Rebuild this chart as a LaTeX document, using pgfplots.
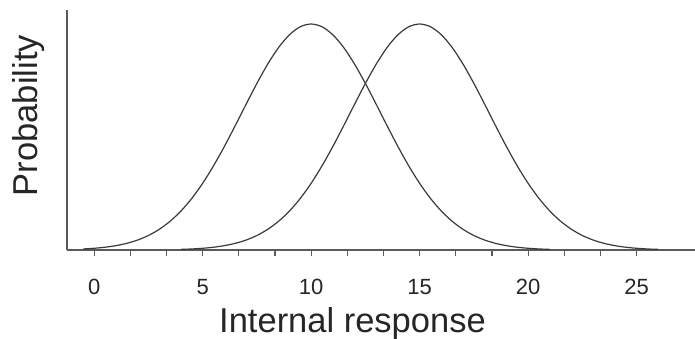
\documentclass[border=0pt]{standalone}
\usepackage{pgfplots}
\pgfplotsset{compat=1.18}
\usepackage{fontspec}
\setmainfont{Liberation Sans}
\definecolor{curve}{HTML}{3A3A3A}
\definecolor{axisgray}{HTML}{5A5A5A}
\begin{document}
\begin{tikzpicture}
\begin{axis}[
  at={(67pt,89pt)}, anchor=south west,
  scale only axis, width=628pt, height=240pt,
  xmin=-1.25, xmax=27.69, ymin=0, ymax=1.062,
  axis lines=left, axis line style={-, axisgray, line width=1.5pt},
  xtick={0,5,10,15,20,25}, minor x tick num=2,
  ytick=\empty,
  tick align=outside, tick pos=left,
  major tick length=6pt, minor tick length=6pt,
  every tick/.style={axisgray, line width=1.2pt},
  /pgf/number format/assume math mode=true,
  xticklabel style={font=\fontsize{22}{22}\selectfont, text=black!85, yshift=-20pt},
  xlabel={Internal response},
  xlabel style={at={(axis description cs:0.4546,0)}, anchor=base, yshift=-82pt, font=\fontsize{34.5}{34.5}\selectfont, text=black!85},
  ylabel={Probability},
  ylabel style={at={(axis description cs:-0.0462,0.56)}, anchor=base, rotate=0, font=\fontsize{34.5}{34.5}\selectfont, text=black!85},
  clip=false,
]
\addplot[curve, line width=1.2pt, smooth] coordinates {
(-0.5,0.0046) (0,0.0076) (0.5,0.0122) (1,0.0192) (1.5,0.0294) (2,0.0439) (2.5,0.0641)
(3,0.0914) (3.5,0.1271) (4,0.1724) (4.5,0.2283) (5,0.2950) (5.5,0.3720) (6,0.4578)
(6.5,0.5498) (7,0.6444) (7.5,0.7370) (8,0.8226) (8.5,0.8960) (9,0.9523) (9.5,0.9879)
(10,1) (10.5,0.9879) (11,0.9523) (11.5,0.8960) (12,0.8226) (12.5,0.7370) (13,0.6444)
(13.5,0.5498) (14,0.4578) (14.5,0.3720) (15,0.2950) (15.5,0.2283) (16,0.1724)
(16.5,0.1271) (17,0.0914) (17.5,0.0641) (18,0.0439) (18.5,0.0294) (19,0.0192)
(19.5,0.0122) (20,0.0076) (20.5,0.0046) (21,0.0027)
};
\addplot[curve, line width=1.2pt, smooth] coordinates {
(4,0.0027) (4.5,0.0046) (5,0.0076) (5.5,0.0122) (6,0.0192) (6.5,0.0294) (7,0.0439) (7.5,0.0641)
(8,0.0914) (8.5,0.1271) (9,0.1724) (9.5,0.2283) (10,0.2950) (10.5,0.3720) (11,0.4578)
(11.5,0.5498) (12,0.6444) (12.5,0.7370) (13,0.8226) (13.5,0.8960) (14,0.9523) (14.5,0.9879)
(15,1) (15.5,0.9879) (16,0.9523) (16.5,0.8960) (17,0.8226) (17.5,0.7370) (18,0.6444)
(18.5,0.5498) (19,0.4578) (19.5,0.3720) (20,0.2950) (20.5,0.2283) (21,0.1724)
(21.5,0.1271) (22,0.0914) (22.5,0.0641) (23,0.0439) (23.5,0.0294) (24,0.0192)
(24.5,0.0122) (25,0.0076) (25.5,0.0046) (26,0.0027)
};
\end{axis}
\pgfresetboundingbox
\path (0,0) rectangle (695pt,339pt);
\end{tikzpicture}
\end{document}
